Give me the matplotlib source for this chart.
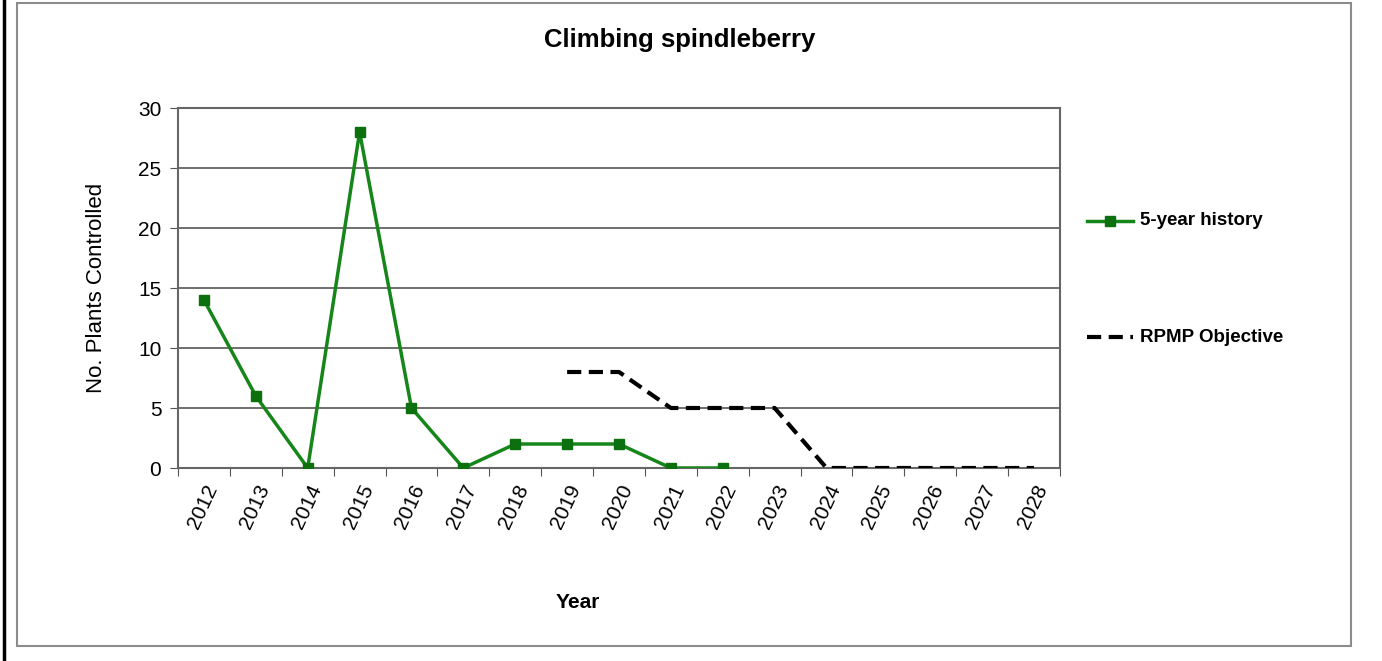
import matplotlib
matplotlib.use("Agg")
import matplotlib.pyplot as plt
from matplotlib.patches import Rectangle
from matplotlib.lines import Line2D

years = [str(y) for y in range(2012, 2029)]
history_years = years[:11]
history_values = [14, 6, 0, 28, 5, 0, 2, 2, 2, 0, 0]
objective_years = years[7:]
objective_values = [8, 8, 5, 5, 5, 0, 0, 0, 0, 0]

title = "Climbing spindleberry"
history_label = "5-year history"
objective_label = "RPMP Objective"

plt.rcParams["font.family"] = ["Liberation Sans", "DejaVu Sans"]

W, H = 1382, 661
fig = plt.figure(figsize=(W / 100, H / 100), dpi=100)
fig.patch.set_facecolor("white")

# outer chart frame and left rule
fig.add_artist(Rectangle((17 / W, 1 - 646 / H), (1351 - 17) / W, (646 - 3) / H,
                         transform=fig.transFigure, fill=False,
                         edgecolor="#8c8c8c", linewidth=1.5))
fig.add_artist(Line2D([4 / W, 4 / W], [0, 1], transform=fig.transFigure,
                      color="black", linewidth=2.5))

ax = fig.add_axes([178 / W, 1 - 468 / H, (1060 - 178) / W, (468 - 108) / H])

idx = {y: i for i, y in enumerate(years)}
hx = [idx[y] for y in history_years]
ox = [idx[y] for y in objective_years]

green_line = "#16851a"
green_mark = "#0d700f"
dash = (0, (3.4, 1.8))

ax.plot(ox, objective_values, color="black", linestyle=dash,
        linewidth=3, zorder=3)
ax.plot(hx, history_values, color=green_line, linewidth=2.5, marker="s",
        markersize=7.5, markerfacecolor=green_mark, markeredgecolor=green_mark,
        zorder=4)

ax.set_xlim(-0.5, len(years) - 0.5)
ax.set_ylim(0, 30)
ax.set_yticks(range(0, 31, 5))
ax.yaxis.grid(True, color="#555555", linewidth=1.2)
ax.set_axisbelow(True)

# category ticks sit between the years, labels under each year
ax.set_xticks([i - 0.5 for i in range(len(years) + 1)])
ax.set_xticklabels([])
ax.set_xticks(range(len(years)), minor=True)
ax.set_xticklabels(years, minor=True, rotation=65, ha="right",
                   rotation_mode="anchor", fontsize=15)
ax.tick_params(axis="x", which="minor", length=0, pad=10)
ax.tick_params(axis="x", which="major", length=6, color="#555555")
ax.tick_params(axis="y", length=6, color="#555555", labelsize=15, pad=6)

for s in ax.spines.values():
    s.set_color("#666666")
    s.set_linewidth(1.5)

fig.text(96 / W, 1 - 288 / H, "No. Plants Controlled", rotation=90,
         ha="center", va="center", fontsize=16)
fig.text(578 / W, 1 - 602 / H, "Year", ha="center", va="center",
         fontsize=15, fontweight="bold")
fig.text(680 / W, 1 - 40 / H, title, ha="center", va="center",
         fontsize=18.5, fontweight="bold")

# legend entries
fig.add_artist(Line2D([1087 / W, 1133 / W], [1 - 221 / H] * 2,
                      transform=fig.transFigure, color=green_line, linewidth=2.5))
fig.add_artist(Line2D([1110 / W], [1 - 221 / H], transform=fig.transFigure,
                      color=green_mark, marker="s", markersize=7.5,
                      linestyle="none"))
fig.text(1140 / W, 1 - 221 / H, history_label, ha="left", va="center",
         fontsize=13.5, fontweight="bold")
fig.add_artist(Line2D([1087 / W, 1133 / W], [1 - 337 / H] * 2,
                      transform=fig.transFigure, color="black", linewidth=3,
                      linestyle=dash))
fig.text(1140 / W, 1 - 337 / H, objective_label, ha="left", va="center",
         fontsize=13.5, fontweight="bold")

fig.savefig("out.png", dpi=100, facecolor="white")
